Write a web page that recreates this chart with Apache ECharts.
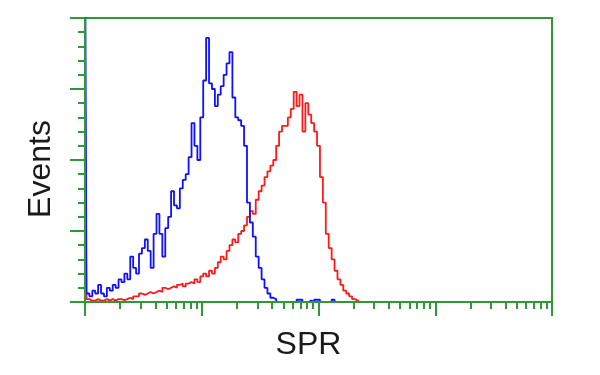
<!DOCTYPE html>
<html><head><meta charset="utf-8">
<script src="https://cdn.jsdelivr.net/npm/echarts@6/dist/echarts.min.js"></script>
<style>html,body{margin:0;padding:0;background:#fff}#c{width:600px;height:375px}</style>
</head><body><div id="c"></div>
<script>
// bins: log-decade position = BIN_START + i * BIN_STEP
var BIN_START = 0, BIN_STEP = 0.025;
var blueCounts = [140,3,2,4,3,6,3,2,5,4,6,5,8,7,10,8,16,12,10,17,19,22,18,12,24,31,24,16,26,30,39,34,33,40,43,45,51,63,55,50,65,78,93,77,75,69,73,76,80,84,88,72,65,64,62,55,35,28,23,16,12,8,5,3,1.5,1,0,0,0,0,0,0,0,0.8,0.8,0,0,0.5,0,0.8,0.8,0,0,0,0,0.8,0,0,0];
var redCounts = [75,1,0.5,0.5,1,0.5,0.5,1,0.5,1,0.5,1,1,0.7,1,1.5,1,2,2,3,2.5,3,3.5,3,3.5,4,3.5,5,4.5,5,5.5,5,6,6.5,5.5,6.5,7,6.5,8,7,9,10,9,11,10,12,14,16,15,18,20,22,21,24,25,27,30,32,31,36,39,41,44,46,48,50,55,60,62,62,65,68,74,69,73,60,70,66,63,60,55,44,35,24,19,15,11,8,6,4,3,2,1,0.5,0];
var decades = [0,1,2,3,4];
var xTitle = 'SPR', yTitle = 'Events';

function toPairs(arr){ return arr.map(function(v,i){ return [BIN_START + i*BIN_STEP, v]; }); }
var minorVals = [];
for (var d = 0; d < 4; d++) for (var k = 2; k <= 9; k++) minorVals.push(d + Math.log10(k));

var GREEN = '#2f9a35';
var chart = echarts.init(document.getElementById('c'), null, {renderer:'canvas'});
chart.setOption({
  animation:false,
  grid:{left:85, top:18, right:48, bottom:73, show:true, borderColor:GREEN, borderWidth:2, backgroundColor:'#fff'},
  xAxis:[{
    type:'value', min:0, max:4, z:10,
    name:xTitle, nameLocation:'middle', nameGap:27,
    nameTextStyle:{fontFamily:'Liberation Sans', fontSize:32, color:'#1a1a1a', padding:[0,20,0,0]},
    axisLine:{show:true, lineStyle:{color:GREEN, width:2}},
    axisTick:{show:true, customValues:decades, length:14, lineStyle:{color:GREEN, width:2}},
    axisLabel:{show:false}, splitLine:{show:false}
  },{
    type:'value', min:0, max:4, position:'bottom', z:10,
    axisLine:{show:false},
    axisTick:{show:true, customValues:minorVals, length:7, lineStyle:{color:GREEN, width:2}},
    axisLabel:{show:false}, splitLine:{show:false}
  }],
  yAxis:{
    type:'value', min:0, max:100, interval:25, z:10,
    name:yTitle, nameLocation:'middle', nameGap:28, nameRotate:90,
    nameTextStyle:{fontFamily:'Liberation Sans', fontSize:32, color:'#1a1a1a', padding:[0,18,0,0]},
    axisLine:{show:true, lineStyle:{color:GREEN, width:2}},
    axisTick:{show:true, length:15, lineStyle:{color:GREEN, width:2}},
    minorTick:{show:true, splitNumber:5, length:7, lineStyle:{color:GREEN, width:2}},
    axisLabel:{show:false}, splitLine:{show:false}, minorSplitLine:{show:false}
  },
  series:[
    {type:'line', step:'middle', data:toPairs(redCounts), showSymbol:false, clip:true,
     lineStyle:{color:'#ff1a1a', width:1.8}},
    {type:'line', step:'middle', data:toPairs(blueCounts), showSymbol:false, clip:true,
     lineStyle:{color:'#1010ff', width:1.8}}
  ]
});
</script></body></html>
